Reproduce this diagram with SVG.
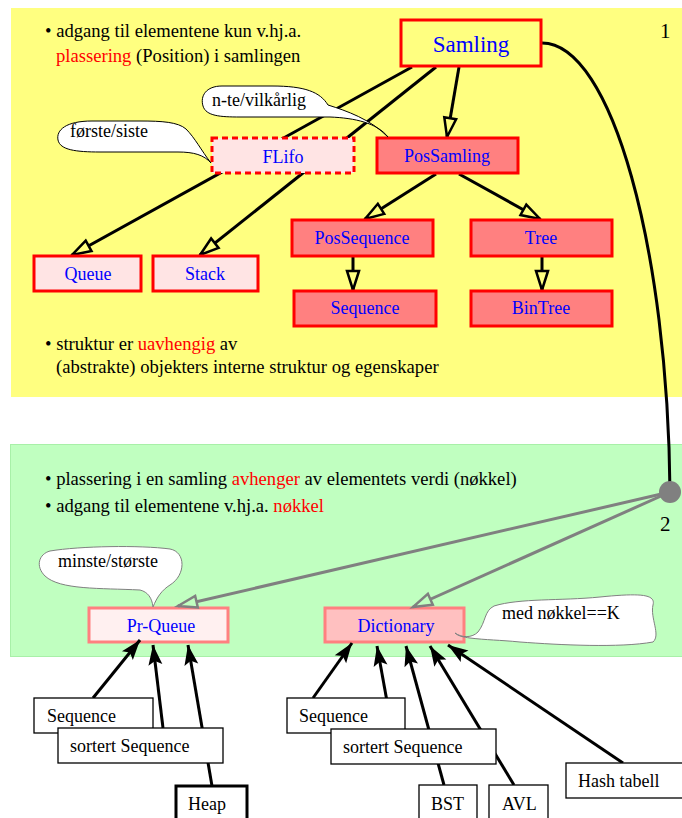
<svg xmlns="http://www.w3.org/2000/svg" width="682" height="818" viewBox="0 0 682 818">
<style>
text{font-family:"Liberation Serif","Times New Roman",serif;}
.bul{font-size:18.6px;fill:#000;}
.red{fill:#ff0000;}
.lbl{font-size:18px;fill:#0000ff;text-anchor:middle;}
.blk{font-size:18px;fill:#000;}
.n1{fill:#ffe4e4;stroke:#ff0000;stroke-width:3;}
.n2{fill:#ff8080;stroke:#ff0000;stroke-width:3;}
.wb{fill:#fff;stroke:#000;stroke-width:1.3;}
.ln{stroke:#000;stroke-width:3;fill:none;}
.gl{stroke:#808080;stroke-width:3;fill:none;}
.co{fill:#fff;stroke:#000;stroke-width:1;}
.cog{fill:#fff;stroke:#808080;stroke-width:1;}
</style>
<defs>
<marker id="hy" markerUnits="userSpaceOnUse" markerWidth="30" markerHeight="20" refX="20" refY="7" orient="auto" overflow="visible">
<path d="M1,1 L20,7 L1,13 Z" fill="#ffff80" stroke="#000" stroke-width="2.5"/>
</marker>
<marker id="hg" markerUnits="userSpaceOnUse" markerWidth="30" markerHeight="20" refX="20" refY="7" orient="auto" overflow="visible">
<path d="M1,1 L20,7 L1,13 Z" fill="#c0ffc0" stroke="#808080" stroke-width="2.5"/>
</marker>
<marker id="fb" markerUnits="userSpaceOnUse" markerWidth="30" markerHeight="20" refX="20" refY="7" orient="auto" overflow="visible">
<path d="M0,0 L20,7 L0,14 L4,7 Z" fill="#000"/>
</marker>
</defs>

<g id="panels">
<rect x="11" y="8" width="671" height="389" fill="#ffff80"/>
<rect x="10.5" y="444.5" width="672" height="212" fill="#c0ffc0" stroke="#a8f0a8" stroke-width="1"/>
</g>

<g id="texts">
<text class="bul" x="45" y="37">• adgang til elementene kun v.hj.a.</text>
<text class="bul" x="56" y="62"><tspan class="red">plassering</tspan> (Position) i samlingen</text>
<text class="bul" x="45" y="350">• struktur er <tspan class="red">uavhengig</tspan> av</text>
<text class="bul" x="56" y="373">(abstrakte) objekters interne struktur og egenskaper</text>
<text class="bul" x="45" y="485">• plassering i en samling <tspan class="red">avhenger</tspan> av elementets verdi (nøkkel)</text>
<text class="bul" x="45" y="512">• adgang til elementene v.hj.a. <tspan class="red">nøkkel</tspan></text>
<text x="660" y="38" style="font-size:21px;fill:#000">1</text>
<text x="660" y="531" style="font-size:21px;fill:#000">2</text>
</g>

<g id="PrQueue">
<rect x="89" y="608" width="139" height="34" fill="#fff0f0" stroke="#ff8080" stroke-width="3"/>
<text class="lbl" x="161" y="632">Pr-Queue</text>
</g>
<g id="Dictionary">
<rect x="325" y="608" width="139" height="34" fill="#ffc0c0" stroke="#ff8080" stroke-width="3"/>
<text class="lbl" x="396" y="632">Dictionary</text>
</g>

<g id="connectors">
<line class="ln" x1="459" y1="67" x2="447" y2="137" marker-end="url(#hy)"/>
<line class="ln" x1="412" y1="67" x2="72" y2="255" marker-end="url(#hy)"/>
<line class="ln" x1="436" y1="67" x2="200" y2="255" marker-end="url(#hy)"/>
<line class="ln" x1="436" y1="174" x2="365" y2="219" marker-end="url(#hy)"/>
<line class="ln" x1="459" y1="174" x2="540" y2="219" marker-end="url(#hy)"/>
<line class="ln" x1="353" y1="257" x2="353" y2="290" marker-end="url(#hy)"/>
<line class="ln" x1="542" y1="257" x2="542" y2="290" marker-end="url(#hy)"/>
<path class="ln" d="M542,43 C612,43 668,250 670,492"/>
<line class="gl" x1="670" y1="492" x2="178" y2="606" marker-end="url(#hg)"/>
<line class="gl" x1="670" y1="492" x2="413" y2="607" marker-end="url(#hg)"/>
<circle cx="670" cy="492" r="11" fill="#808080"/>
<line class="ln" x1="93" y1="698" x2="140" y2="640" marker-end="url(#fb)"/>
<line class="ln" x1="163" y1="728" x2="153" y2="645" marker-end="url(#fb)"/>
<line class="ln" x1="212" y1="786" x2="188" y2="645" marker-end="url(#fb)"/>
<line class="ln" x1="313" y1="698" x2="352" y2="643" marker-end="url(#fb)"/>
<line class="ln" x1="392" y1="729" x2="377" y2="646" marker-end="url(#fb)"/>
<line class="ln" x1="444" y1="785" x2="406" y2="646" marker-end="url(#fb)"/>
<line class="ln" x1="514" y1="785" x2="430" y2="646" marker-end="url(#fb)"/>
<line class="ln" x1="623" y1="763" x2="448" y2="645" marker-end="url(#fb)"/>
</g>

<g id="Samling">
<rect x="401" y="20" width="140" height="46" fill="#ffff80" stroke="#ff0000" stroke-width="3"/>
<text class="lbl" x="471" y="52" style="font-size:23px">Samling</text>
</g>
<g id="FLifo">
<rect x="212" y="138" width="142" height="35" fill="#ffe4e4" stroke="#ff0000" stroke-width="3" stroke-dasharray="6,4"/>
<text class="lbl" x="283" y="163">FLifo</text>
</g>
<g id="PosSamling">
<rect class="n2" x="377" y="138" width="141" height="35"/>
<text class="lbl" x="447" y="162">PosSamling</text>
</g>
<g id="Queue">
<rect class="n1" x="34" y="256" width="107" height="35"/>
<text class="lbl" x="88" y="280">Queue</text>
</g>
<g id="Stack">
<rect class="n1" x="153" y="256" width="105" height="35"/>
<text class="lbl" x="205" y="280">Stack</text>
</g>
<g id="PosSequence">
<rect class="n2" x="292" y="220" width="141" height="36"/>
<text class="lbl" x="362" y="244">PosSequence</text>
</g>
<g id="Tree">
<rect class="n2" x="471" y="220" width="141" height="36"/>
<text class="lbl" x="541" y="244">Tree</text>
</g>
<g id="Sequence1">
<rect class="n2" x="294" y="291" width="142" height="35"/>
<text class="lbl" x="365" y="314">Sequence</text>
</g>
<g id="BinTree">
<rect class="n2" x="471" y="291" width="141" height="35"/>
<text class="lbl" x="541" y="314">BinTree</text>
</g>

<g id="callout-nte">
<path class="co" d="M388,137 C370,119 347,111 328,105 C320,92 305,86 272,86 L222,86 C206,86 200,96 203,106 C206,116 220,117 240,117 L330,117 C355,118 377,123 388,137 Z"/>
<text class="blk" x="212" y="106">n-te/vilkårlig</text>
</g>
<g id="callout-forste">
<path class="co" d="M211,163 C201,150 195,138 186,129 C178,122 162,121 140,121 L92,121 C66,121 56,130 58,140 C60,150 76,152 100,152 L178,152 C194,152 204,155 211,163 Z"/>
<text class="blk" x="70" y="137">første/siste</text>
</g>
<g id="callout-minste">
<path class="cog" d="M153,607 C152,598 148,592 140,590 C100,588 60,590 45,576 C35,566 39,554 50,551 C80,546 140,545 170,549 C186,552 186,575 170,585 C162,590 157,597 153,607 Z"/>
<text class="blk" x="58" y="567">minste/største</text>
</g>
<g id="callout-med">
<path class="cog" d="M455,633 C462,638 472,638 478,632 C486,622 484,611 494,606 C520,598 560,601 600,597 C640,593 656,594 653,605 C650,618 661,635 653,642 C620,648 560,645 520,642 C500,640 486,640 470,638 C463,637 458,636 455,633 Z"/>
<text class="blk" x="502" y="619">med nøkkel==K</text>
</g>

<g id="SeqL">
<rect class="wb" x="34" y="698" width="119" height="35"/>
<text class="blk" x="47" y="722">Sequence</text>
</g>
<g id="SortL">
<rect class="wb" x="58" y="728" width="165" height="35"/>
<text class="blk" x="70" y="752">sortert Sequence</text>
</g>
<g id="Heap">
<rect x="176" y="786" width="71" height="40" fill="#fff" stroke="#000" stroke-width="3"/>
<text class="blk" x="188" y="810">Heap</text>
</g>
<g id="SeqR">
<rect class="wb" x="287" y="698" width="118" height="35"/>
<text class="blk" x="299" y="722">Sequence</text>
</g>
<g id="SortR">
<rect class="wb" x="331" y="729" width="165" height="35"/>
<text class="blk" x="343" y="753">sortert Sequence</text>
</g>
<g id="BST">
<rect class="wb" x="419" y="785" width="58" height="40"/>
<text class="blk" x="431" y="810">BST</text>
</g>
<g id="AVL">
<rect class="wb" x="489" y="785" width="59" height="40"/>
<text class="blk" x="502" y="810">AVL</text>
</g>
<g id="Hash">
<rect class="wb" x="566" y="763" width="120" height="35"/>
<text class="blk" x="578" y="787">Hash tabell</text>
</g>
</svg>
